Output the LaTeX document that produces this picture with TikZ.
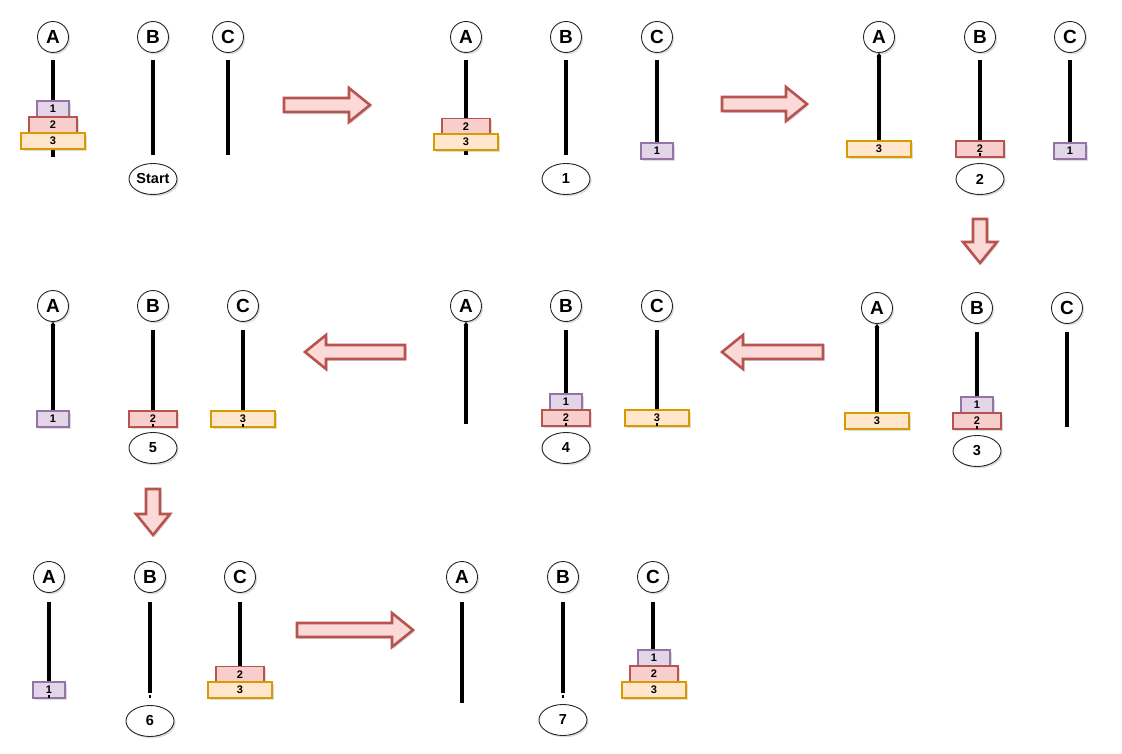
\documentclass[tikz,border=0pt]{standalone}
\usepackage{fontspec}
\setmainfont{Liberation Sans}
\usetikzlibrary{shapes.geometric,arrows.meta,shadows}
\definecolor{pfill}{HTML}{E1D5E7}\definecolor{pline}{HTML}{9673A6}
\definecolor{rfill}{HTML}{F8CECC}\definecolor{rline}{HTML}{B85450}
\definecolor{ofill}{HTML}{FFE6CC}\definecolor{oline}{HTML}{D79B00}
\definecolor{afill}{HTML}{FAD9D7}
\tikzset{
  shd/.style={drop shadow={shadow xshift=1.6pt,shadow yshift=-1.8pt,opacity=0.22,fill=black!60}},
  peglbl/.style={circle,draw=black!85,line width=0.9pt,fill=white,minimum size=31pt,inner sep=0pt,
    font=\bfseries\fontsize{19}{19}\selectfont,shd},
  rod/.style={line width=3.6pt,black},
  rodtip/.style={rod,-{Stealth[length=3.5pt,width=5pt]}},
  rodend/.style={line width=2pt,black},
  disk/.style={rectangle,line width=1.1pt,minimum height=16pt,inner sep=0pt,
    font=\bfseries\fontsize{11}{11}\selectfont,shd},
  dA/.style={disk,draw=pline,fill=pfill,minimum width=32pt},
  dB/.style={disk,draw=rline,fill=rfill,minimum width=48pt},
  dC/.style={disk,draw=oline,fill=ofill,minimum width=64pt},
  stepell/.style={ellipse,draw=black!85,line width=0.9pt,fill=white,minimum width=48pt,minimum height=31pt,
    inner sep=0pt,font=\bfseries\fontsize{14.5}{14.5}\selectfont,shd},
  fatarr/.style={draw=rline,fill=afill,line width=2.6pt,line join=miter,shd},
  pics/fatarrow/.style={code={\draw[fatarr] (0,-7) -- ({#1-21},-7) -- ({#1-21},-17) -- (#1,0)
     -- ({#1-21},17) -- ({#1-21},7) -- (0,7) -- cycle;}}
}
\begin{document}
\begin{tikzpicture}[x=1pt,y=-1pt]
\fill[white] (0,0) rectangle (1122,754);
\useasboundingbox (0,0) rectangle (1122,754);

% ---------- panel 1 (Start) ----------
\node[peglbl] (p1A) at (53,37) {A};
\node[peglbl] (p1B) at (153,37) {B};
\node[peglbl] (p1C) at (228,37) {C};
\coordinate (p1At) at (53,60); \coordinate (p1Ab) at (53,157);
\coordinate (p1Bt) at (153,60); \coordinate (p1Bb) at (153,155);
\coordinate (p1Ct) at (228,60); \coordinate (p1Cb) at (228,155);
\draw[rod] (p1At) -- (p1Ab);
\draw[rod] (p1Bt) -- (p1Bb);
\draw[rod] (p1Ct) -- (p1Cb);
\node[dA] (p1d1) at (53,109) {1};
\node[dB] (p1d2) at (53,125) {2};
\node[dC] (p1d3) at (53,141) {3};
\node[stepell] (p1s) at (153,179) {Start};

% ---------- panel 2 ----------
\node[peglbl] (p2A) at (466,37) {A};
\node[peglbl] (p2B) at (566,37) {B};
\node[peglbl] (p2C) at (657,37) {C};
\coordinate (p2At) at (466,60); \coordinate (p2Ab) at (466,155);
\coordinate (p2Bt) at (566,60); \coordinate (p2Bb) at (566,155);
\coordinate (p2Ct) at (657,60); \coordinate (p2Cb) at (657,143);
\draw[rod] (p2At) -- (p2Ab);
\draw[rod] (p2Bt) -- (p2Bb);
\draw[rod] (p2Ct) -- (p2Cb);
\node[dB] (p2d2) at (466,126.5) {2};
\node[dC] (p2d3) at (466,142) {3};
\node[dA] (p2d1) at (657,151) {1};
\node[stepell] (p2s) at (566,179) {1};

% ---------- panel 3 ----------
\node[peglbl] (p3A) at (879,37) {A};
\node[peglbl] (p3B) at (980,37) {B};
\node[peglbl] (p3C) at (1070,37) {C};
\coordinate (p3Bt) at (980,60); \coordinate (p3Bb) at (980,141);
\coordinate (p3Ct) at (1070,60); \coordinate (p3Cb) at (1070,143);
\draw[rod] (p3Bt) -- (p3Bb);
\draw[rod] (p3Ct) -- (p3Cb);
\node[dC] (p3d3) at (879,149) {3};
\node[dB] (p3d2) at (980,149) {2};
\node[dA] (p3d1) at (1070,151) {1};
\draw[rodtip] (p3d3.north) -- (p3A.south);
\draw[rodend] (980,153.5) -- (980,156.5);
\node[stepell] (p3s) at (980,179) {2};

% ---------- panel 4 (step 3) ----------
\node[peglbl] (p4A) at (877,308) {A};
\node[peglbl] (p4B) at (977,308) {B};
\node[peglbl] (p4C) at (1067,308) {C};
\coordinate (p4Bt) at (977,332); \coordinate (p4Bb) at (977,397);
\coordinate (p4Ct) at (1067,332); \coordinate (p4Cb) at (1067,427);
\draw[rod] (p4Bt) -- (p4Bb);
\draw[rod] (p4Ct) -- (p4Cb);
\node[dC] (p4d3) at (877,421) {3};
\node[dA] (p4d1) at (977,405) {1};
\node[dB] (p4d2) at (977,421) {2};
\draw[rodtip] (p4d3.north) -- (p4A.south);
\draw[rodend] (977,425.5) -- (977,428.5);
\node[stepell] (p4s) at (977,451) {3};

% ---------- panel 5 (step 4) ----------
\node[peglbl] (p5A) at (466,306) {A};
\node[peglbl] (p5B) at (566,306) {B};
\node[peglbl] (p5C) at (657,306) {C};
\coordinate (p5Ab) at (466,424);
\coordinate (p5Bt) at (566,330); \coordinate (p5Bb) at (566,394);
\coordinate (p5Ct) at (657,330); \coordinate (p5Cb) at (657,410);
\draw[rodtip] (p5Ab) -- (p5A.south);
\draw[rod] (p5Bt) -- (p5Bb);
\draw[rod] (p5Ct) -- (p5Cb);
\node[dA] (p5d1) at (566,402) {1};
\node[dB] (p5d2) at (566,418) {2};
\node[dC] (p5d3) at (657,418) {3};
\draw[rodend] (566,422.5) -- (566,425.5);
\draw[rodend] (657,422.5) -- (657,425.5);
\node[stepell] (p5s) at (566,448) {4};

% ---------- panel 6 (step 5) ----------
\node[peglbl] (p6A) at (53,306) {A};
\node[peglbl] (p6B) at (153,306) {B};
\node[peglbl] (p6C) at (243,306) {C};
\coordinate (p6Bt) at (153,330); \coordinate (p6Bb) at (153,411);
\coordinate (p6Ct) at (243,330); \coordinate (p6Cb) at (243,411);
\draw[rod] (p6Bt) -- (p6Bb);
\draw[rod] (p6Ct) -- (p6Cb);
\node[dA] (p6d1) at (53,419) {1};
\node[dB] (p6d2) at (153,419) {2};
\node[dC] (p6d3) at (243,419) {3};
\draw[rodtip] (p6d1.north) -- (p6A.south);
\draw[rodend] (153,423.5) -- (153,426.5);
\draw[rodend] (243,423.5) -- (243,426.5);
\node[stepell] (p6s) at (153,448) {5};

% ---------- panel 7 (step 6) ----------
\node[peglbl] (p7A) at (49,577) {A};
\node[peglbl] (p7B) at (150,577) {B};
\node[peglbl] (p7C) at (240,577) {C};
\coordinate (p7At) at (49,602); \coordinate (p7Ab) at (49,682);
\coordinate (p7Bt) at (150,602); \coordinate (p7Bb) at (150,693);
\coordinate (p7Ct) at (240,602); \coordinate (p7Cb) at (240,667);
\draw[rod] (p7At) -- (p7Ab);
\draw[rod] (p7Bt) -- (p7Bb);
\draw[rod] (p7Ct) -- (p7Cb);
\draw[rodend] (150,695) -- (150,698);
\node[dA] (p7d1) at (49,690) {1};
\node[dB] (p7d2) at (240,674.5) {2};
\node[dC] (p7d3) at (240,690) {3};
\draw[rodend] (49,694.5) -- (49,697.5);
\node[stepell] (p7s) at (150,721) {6};

% ---------- panel 8 (step 7) ----------
\node[peglbl] (p8A) at (462,577) {A};
\node[peglbl] (p8B) at (563,577) {B};
\node[peglbl] (p8C) at (653,577) {C};
\coordinate (p8At) at (462,602); \coordinate (p8Ab) at (462,703);
\coordinate (p8Bt) at (563,602); \coordinate (p8Bb) at (563,693);
\coordinate (p8Ct) at (653,602); \coordinate (p8Cb) at (653,650);
\draw[rod] (p8At) -- (p8Ab);
\draw[rod] (p8Bt) -- (p8Bb);
\draw[rod] (p8Ct) -- (p8Cb);
\draw[rodend] (563,695) -- (563,698);
\node[dA] (p8d1) at (654,658) {1};
\node[dB] (p8d2) at (654,674) {2};
\node[dC] (p8d3) at (654,690) {3};
\node[stepell] (p8s) at (563,720) {7};

% ---------- transition arrows ----------
\pic at (284,105) {fatarrow=86};
\pic at (722,104) {fatarrow=85};
\pic[rotate=-90] at (980,219) {fatarrow=44};
\pic[rotate=180] at (823,352) {fatarrow=101};
\pic[rotate=180] at (405,352) {fatarrow=100};
\pic[rotate=-90] at (153,489) {fatarrow=46};
\pic at (297,630) {fatarrow=116};
\end{tikzpicture}
\end{document}
